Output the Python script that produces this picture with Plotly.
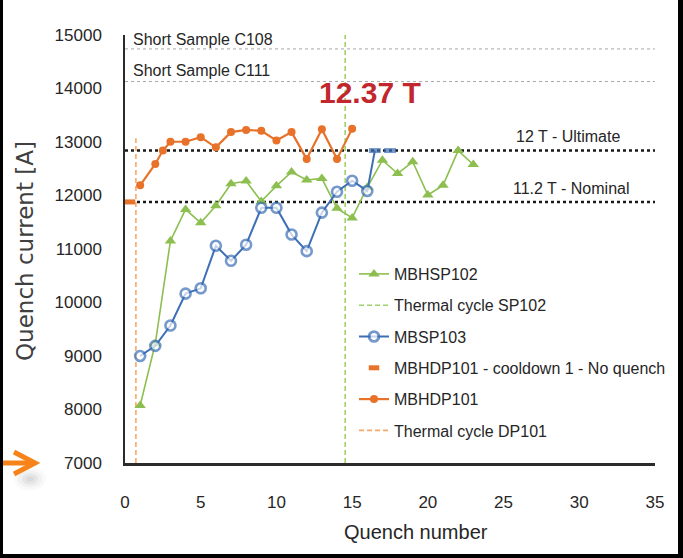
import plotly.graph_objects as go

# Quench training data (quench number vs quench current in A)
sp102_x = [1, 2, 3, 4, 5, 6, 7, 8, 9, 10, 11, 12, 13, 14, 15, 16, 17, 18, 19, 20, 21, 22, 23]
sp102_y = [8075, 9230, 11150, 11740, 11490, 11810, 12220, 12270, 11890, 12180, 12440, 12290,
           12320, 11760, 11580, 12150, 12660, 12410, 12630, 12010, 12190, 12840, 12580]

sp103_x = [1, 2, 3, 4, 5, 6, 7, 8, 9, 10, 11, 12, 13, 14, 15, 16, 16.5, None, 17.5]
sp103_y = [9000, 9190, 9570, 10165, 10265, 11060, 10780, 11080, 11770, 11770, 11270, 10960,
           11680, 12070, 12275, 12085, 12840, None, 12840]

dp101_x = [1, 2, 2.5, 3, 4, 5, 6, 7, 8, 9, 10, 11, 12, 13, 14, 15]
dp101_y = [12190, 12590, 12840, 13005, 13005, 13090, 12900, 13185, 13225, 13210, 13030,
           13185, 12680, 13240, 12680, 13250]

dp101_noquench_x = [0.33]
dp101_noquench_y = [11880]

tc_sp102_x = [14.54, 14.54]
tc_sp102_y = [7000, 15000]
tc_dp101_x = [0.72, 0.72]
tc_dp101_y = [7000, 13070]

# Reference current levels
ref_x = [0, 35]
ss_c108 = 14740
ss_c111 = 14130
ultimate_12t = 12840
nominal_11t = 11880

x_ticks = [0, 5, 10, 15, 20, 25, 30, 35]
y_ticks = [7000, 8000, 9000, 10000, 11000, 12000, 13000, 14000, 15000]

GREEN = "#8cbf4f"
BLUE = "#3d6fb6"
ORANGE = "#e8722a"
SANS = "Liberation Sans, Arial, sans-serif"
TXT = "#262626"

fig = go.Figure()

# reference lines
for yv, col, w, dash in [(ss_c108, "#a8a8a8", 1, "dot"), (ss_c111, "#a8a8a8", 1, "dot"),
                         (ultimate_12t, "#1a1a1a", 2.5, "dot"), (nominal_11t, "#1a1a1a", 2.5, "dot")]:
    fig.add_trace(go.Scatter(x=ref_x, y=[yv, yv], mode="lines", showlegend=False,
                             hoverinfo="skip", line=dict(color=col, width=w, dash=dash)))

# thermal cycles
fig.add_trace(go.Scatter(x=tc_sp102_x, y=tc_sp102_y, mode="lines", name="Thermal cycle SP102",
                         legendrank=2, legendgroup="g2",
                         line=dict(color="#9fd26a", width=1.6, dash="5px,3px")))
fig.add_trace(go.Scatter(x=tc_dp101_x, y=tc_dp101_y, mode="lines", name="Thermal cycle DP101",
                         legendrank=6, legendgroup="g6",
                         line=dict(color="#f5a86a", width=1.6, dash="5px,3px")))

# magnet series
fig.add_trace(go.Scatter(x=sp102_x, y=sp102_y, mode="lines+markers", name="MBHSP102",
                         legendrank=1, legendgroup="g1", line=dict(color=GREEN, width=1.6),
                         marker=dict(symbol="triangle-up", size=10, color=GREEN)))

sym = ["circle" if (x is not None and x <= 16) else "line-ew" for x in sp103_x]
sizes = [10 if s == "circle" else 8.5 for s in sym]
lw = [2.6 if s == "circle" else 5 for s in sym]
fig.add_trace(go.Scatter(x=sp103_x, y=sp103_y, mode="lines+markers", name="MBSP103",
                         legendrank=3, legendgroup="g3", connectgaps=False,
                         line=dict(color=BLUE, width=2),
                         marker=dict(symbol=sym, size=sizes, color="white",
                                     line=dict(color=BLUE, width=lw))))

fig.add_trace(go.Scatter(x=dp101_noquench_x, y=dp101_noquench_y, mode="markers",
                         name="MBHDP101 - cooldown 1 - No quench", legendrank=4, legendgroup="g4",
                         marker=dict(symbol="line-ew", size=7.5, color=ORANGE,
                                     line=dict(color=ORANGE, width=5))))

fig.add_trace(go.Scatter(x=dp101_x, y=dp101_y, mode="lines+markers", name="MBHDP101",
                         legendrank=5, legendgroup="g5", line=dict(color=ORANGE, width=2.2),
                         marker=dict(symbol="circle", size=8, color=ORANGE)))

L, R, T, B = 125, 28, 35, 95
W, H = 683, 558
PW, PH = W - L - R, H - T - B


def px(xp):
    return (xp - L) / PW


def py(yp):
    return (H - B - yp) / PH


annotations = [
    dict(x=0.4, y=14925, text="Short Sample C108", showarrow=False, xanchor="left",
         yanchor="middle", font=dict(family=SANS, size=16, color=TXT)),
    dict(x=0.4, y=14330, text="Short Sample C111", showarrow=False, xanchor="left",
         yanchor="middle", font=dict(family=SANS, size=16, color=TXT)),
    dict(x=32.8, y=13095, text="12 T - Ultimate", showarrow=False, xanchor="right",
         yanchor="middle", font=dict(family=SANS, size=16, color=TXT)),
    dict(x=33.45, y=12140, text="11.2 T - Nominal", showarrow=False, xanchor="right",
         yanchor="middle", font=dict(family=SANS, size=16, color=TXT)),
    dict(x=16.15, y=13930, text="<b>12.37 T</b>", showarrow=False, xanchor="center",
         yanchor="middle", font=dict(family=SANS, size=30, color="#c1272d")),
    dict(xref="paper", yref="paper", x=px(25), y=py(251), text="Quench current [A]",
         showarrow=False, textangle=-90, xanchor="center", yanchor="middle",
         font=dict(family="DejaVu Sans", size=23, color="#404040")),
    dict(xref="paper", yref="paper", x=px(416), y=py(532), text="Quench number",
         showarrow=False, xanchor="center", yanchor="middle",
         font=dict(family=SANS, size=20, color=TXT)),
]


def path(points):
    return "M " + " L ".join(f"{px(a):.5f},{py(b):.5f}" for a, b in points)


# soft shadow under the arrow, built from stacked translucent discs
shadow = [
    dict(type="circle", xref="paper", yref="paper",
         x0=px(30 - r), x1=px(30 + r), y0=py(479 + r * 0.7), y1=py(479 - r * 0.7),
         fillcolor=f"rgba(90,90,90,{a})", line=dict(width=0))
    for r, a in [(16, 0.04), (12, 0.05), (8, 0.07), (4, 0.08)]
]

shapes = shadow + [
    dict(type="path", xref="paper", yref="paper", path=path([(0, 463), (33, 463)]),
         line=dict(color="#f7841a", width=5)),
    dict(type="path", xref="paper", yref="paper", path=path([(14, 452), (35, 463), (14, 474)]),
         line=dict(color="#f7841a", width=5)),
    # frame edges
    dict(type="rect", xref="paper", yref="paper", x0=px(0), x1=px(3), y0=py(H), y1=py(0),
         fillcolor="black", line=dict(width=0)),
    dict(type="rect", xref="paper", yref="paper", x0=px(678), x1=px(W), y0=py(H), y1=py(0),
         fillcolor="black", line=dict(width=0)),
    dict(type="rect", xref="paper", yref="paper", x0=px(0), x1=px(W), y0=py(H), y1=py(554),
         fillcolor="black", line=dict(width=0)),
]

fig.update_layout(
    width=W, height=H,
    margin=dict(l=L, r=R, t=T, b=B, autoexpand=False),
    paper_bgcolor="white", plot_bgcolor="white",
    showlegend=True,
    legend=dict(x=px(354), y=py(257), xanchor="left", yanchor="top",
                bgcolor="rgba(0,0,0,0)", font=dict(family=SANS, size=16, color=TXT),
                tracegroupgap=7.5, traceorder="grouped", itemwidth=30),
    annotations=annotations,
    shapes=shapes,
    font=dict(family=SANS, color=TXT),
)

fig.update_xaxes(range=[0, 35], tickvals=x_ticks, ticktext=[str(v) for v in x_ticks],
                 showgrid=False, zeroline=False,
                 showline=True, linecolor="#2b2b2b", linewidth=2.5, ticks="",
                 ticklabelstandoff=22, tickfont=dict(family=SANS, size=17, color=TXT))
fig.update_yaxes(range=[7000, 15000], tickvals=y_ticks, ticktext=[str(v) for v in y_ticks],
                 showgrid=False, zeroline=False,
                 showline=True, linecolor="#2b2b2b", linewidth=1.5, ticks="",
                 ticklabelstandoff=18, tickfont=dict(family=SANS, size=17, color=TXT))

fig.write_html("out.html")
